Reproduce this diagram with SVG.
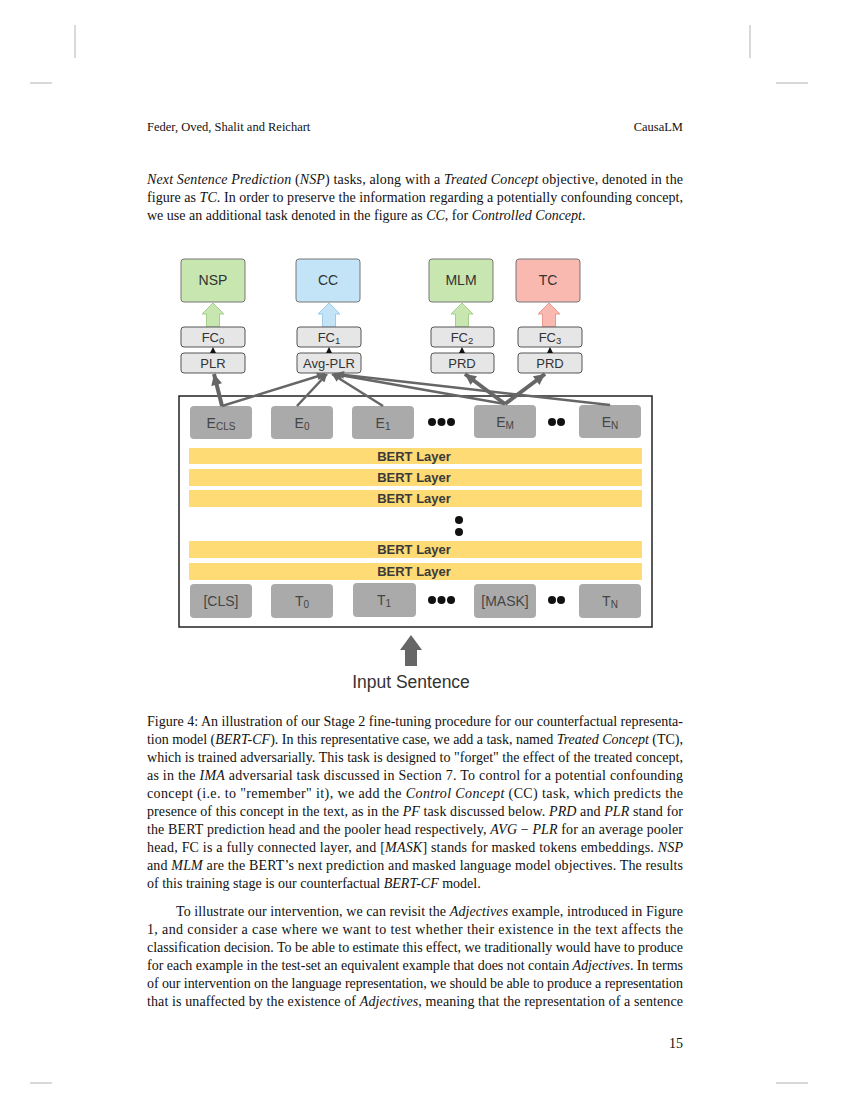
<svg xmlns="http://www.w3.org/2000/svg" width="850" height="1100" viewBox="0 0 850 1100">
<defs>
<style>
.body{font-family:"Liberation Serif","Times New Roman",serif;font-size:14px;fill:#111}
.hdr{font-family:"Liberation Serif","Times New Roman",serif;font-size:12.5px;fill:#111}
.i{font-style:italic}
.lbl{font-family:"Liberation Sans",Arial,sans-serif;fill:#333;text-anchor:middle}
.task{font-size:14px}
.head{font-size:13px}
.emb{font-size:14px;fill:#444}
.bert{font-family:"Liberation Sans",Arial,sans-serif;font-size:13px;font-weight:bold;fill:#3a3a3a;text-anchor:middle}
.hbox{fill:#e6e6e6;stroke:#555;stroke-width:1}
.tbox{stroke:#777;stroke-width:1}
.ebox{fill:#aaaaaa}
.layer{fill:#fedb74}
.crop{stroke:#cccccc;stroke-width:1.5}
.thin{stroke:#666;stroke-width:2.5;fill:none;marker-end:url(#ah)}
.thick{stroke:#666;stroke-width:4;fill:none;marker-end:url(#ahb)}
.dot{fill:#111}
</style>
<marker id="ah" viewBox="0 0 10 10" refX="10" refY="5" markerWidth="9" markerHeight="8" markerUnits="userSpaceOnUse" orient="auto"><path d="M0,0 L10,5 L0,10 z" fill="#666"/></marker>
<marker id="ahb" viewBox="0 0 10 10" refX="10" refY="5" markerWidth="12" markerHeight="11" markerUnits="userSpaceOnUse" orient="auto"><path d="M0,0 L10,5 L0,10 z" fill="#666"/></marker>
</defs>
<rect width="850" height="1100" fill="#fff"/>

<g id="cropmarks">
<line class="crop" x1="75" y1="25" x2="75" y2="58"/>
<line class="crop" x1="30" y1="83" x2="52" y2="83"/>
<line class="crop" x1="750" y1="25" x2="750" y2="58"/>
<line class="crop" x1="776" y1="83" x2="808" y2="83"/>
<line class="crop" x1="30" y1="1083" x2="52" y2="1083"/>
<line class="crop" x1="776" y1="1083" x2="808" y2="1083"/>
</g>

<g id="header">
<text class="hdr" x="147" y="131">Feder, Oved, Shalit and Reichart</text>
<text class="hdr" x="683" y="131" text-anchor="end">CausaLM</text>
</g>

<g id="para1">
<text class="body" x="147" y="184" textLength="536" lengthAdjust="spacing"><tspan class="i">Next Sentence Prediction</tspan> (<tspan class="i">NSP</tspan>) tasks, along with a <tspan class="i">Treated Concept</tspan> objective, denoted in the</text>
<text class="body" x="147" y="202" textLength="536" lengthAdjust="spacing">figure as <tspan class="i">TC</tspan>. In order to preserve the information regarding a potentially confounding concept,</text>
<text class="body" x="147" y="220">we use an additional task denoted in the figure as <tspan class="i">CC</tspan>, for <tspan class="i">Controlled Concept</tspan>.</text>
</g>

<g id="frame">
<rect x="179" y="396" width="473" height="231" fill="none" stroke="#222" stroke-width="1.5"/>
</g>

<g id="node-NSP">
<rect class="tbox" x="181" y="259" width="64" height="43" rx="3" fill="#c8e6b0"/>
<text class="lbl task" x="213" y="285">NSP</text>
</g>
<g id="node-CC">
<rect class="tbox" x="296" y="259" width="64" height="43" rx="3" fill="#c3e3f7"/>
<text class="lbl task" x="328" y="285">CC</text>
</g>
<g id="node-MLM">
<rect class="tbox" x="429" y="259" width="64" height="43" rx="3" fill="#c8e6b0"/>
<text class="lbl task" x="461" y="285">MLM</text>
</g>
<g id="node-TC">
<rect class="tbox" x="516" y="259" width="64" height="43" rx="3" fill="#f9b8b0"/>
<text class="lbl task" x="548" y="285">TC</text>
</g>

<g id="task-arrows">
<polygon points="213,303 224,314 219.5,314 219.5,327 206.5,327 206.5,314 202,314" fill="#c8e6b0" stroke="#a6cf8c" stroke-width="1"/>
<polygon points="329,303 340,314 335.5,314 335.5,327 322.5,327 322.5,314 318,314" fill="#c3e3f7" stroke="#9fcbe8" stroke-width="1"/>
<polygon points="462,303 473,314 468.5,314 468.5,327 455.5,327 455.5,314 451,314" fill="#c8e6b0" stroke="#a6cf8c" stroke-width="1"/>
<polygon points="549,303 560,314 555.5,314 555.5,327 542.5,327 542.5,314 538,314" fill="#f9b8b0" stroke="#eb9a90" stroke-width="1"/>
</g>

<g id="node-FC0">
<rect class="hbox" x="181" y="327" width="64" height="20" rx="3"/>
<text class="lbl head" x="213" y="342">FC<tspan font-size="9.5" dy="2">0</tspan></text>
</g>
<g id="node-FC1">
<rect class="hbox" x="297" y="327" width="64" height="20" rx="3"/>
<text class="lbl head" x="329" y="342">FC<tspan font-size="9.5" dy="2">1</tspan></text>
</g>
<g id="node-FC2">
<rect class="hbox" x="431" y="327" width="63" height="20" rx="3"/>
<text class="lbl head" x="462" y="342">FC<tspan font-size="9.5" dy="2">2</tspan></text>
</g>
<g id="node-FC3">
<rect class="hbox" x="518" y="327" width="64" height="20" rx="3"/>
<text class="lbl head" x="550" y="342">FC<tspan font-size="9.5" dy="2">3</tspan></text>
</g>
<g id="node-PLR">
<rect class="hbox" x="181" y="353" width="64" height="20" rx="3"/>
<text class="lbl head" x="213" y="368">PLR</text>
</g>
<g id="node-AvgPLR">
<rect class="hbox" x="297" y="353" width="64" height="20" rx="3"/>
<text class="lbl head" x="329" y="368">Avg-PLR</text>
</g>
<g id="node-PRD2">
<rect class="hbox" x="431" y="353" width="63" height="20" rx="3"/>
<text class="lbl head" x="462" y="368">PRD</text>
</g>
<g id="node-PRD3">
<rect class="hbox" x="518" y="353" width="64" height="20" rx="3"/>
<text class="lbl head" x="550" y="368">PRD</text>
</g>

<g id="node-ECLS"><rect class="ebox" x="190" y="406" width="62" height="33" rx="4"/><text class="lbl emb" x="221" y="428">E<tspan font-size="10" dy="2">CLS</tspan></text></g>
<g id="node-E0"><rect class="ebox" x="271" y="406" width="62" height="33" rx="4"/><text class="lbl emb" x="302" y="428">E<tspan font-size="10" dy="2">0</tspan></text></g>
<g id="node-E1"><rect class="ebox" x="352" y="406" width="62" height="33" rx="4"/><text class="lbl emb" x="383" y="428">E<tspan font-size="10" dy="2">1</tspan></text></g>
<g id="node-EM"><rect class="ebox" x="474" y="405" width="62" height="33" rx="4"/><text class="lbl emb" x="505" y="427">E<tspan font-size="10" dy="2">M</tspan></text></g>
<g id="node-EN"><rect class="ebox" x="579" y="405" width="62" height="33" rx="4"/><text class="lbl emb" x="610" y="427">E<tspan font-size="10" dy="2">N</tspan></text></g>
<g id="edots">
<circle class="dot" cx="432" cy="422" r="4"/><circle class="dot" cx="441.5" cy="422" r="4"/><circle class="dot" cx="451" cy="422" r="4"/>
<circle class="dot" cx="552" cy="422" r="4"/><circle class="dot" cx="561" cy="422" r="4"/>
</g>

<g id="bert-layers">
<rect class="layer" x="189" y="448" width="453" height="16"/><text class="bert" x="414" y="461">BERT Layer</text>
<rect class="layer" x="189" y="469" width="453" height="17"/><text class="bert" x="414" y="482">BERT Layer</text>
<rect class="layer" x="189" y="490" width="453" height="17"/><text class="bert" x="414" y="503">BERT Layer</text>
<circle class="dot" cx="459" cy="520" r="4"/><circle class="dot" cx="459" cy="532" r="4"/>
<rect class="layer" x="189" y="541" width="453" height="17"/><text class="bert" x="414" y="554">BERT Layer</text>
<rect class="layer" x="189" y="563" width="453" height="17"/><text class="bert" x="414" y="576">BERT Layer</text>
</g>

<g id="node-CLS"><rect class="ebox" x="190" y="584" width="62" height="34" rx="4"/><text class="lbl emb" x="221" y="606">[CLS]</text></g>
<g id="node-T0"><rect class="ebox" x="271" y="584" width="62" height="34" rx="4"/><text class="lbl emb" x="302" y="606">T<tspan font-size="10" dy="2">0</tspan></text></g>
<g id="node-T1"><rect class="ebox" x="353" y="583" width="63" height="34" rx="4"/><text class="lbl emb" x="384" y="605">T<tspan font-size="10" dy="2">1</tspan></text></g>
<g id="node-MASK"><rect class="ebox" x="474" y="584" width="62" height="34" rx="4"/><text class="lbl emb" x="505" y="606">[MASK]</text></g>
<g id="node-TN"><rect class="ebox" x="579" y="584" width="62" height="34" rx="4"/><text class="lbl emb" x="610" y="606">T<tspan font-size="10" dy="2">N</tspan></text></g>
<g id="tdots">
<circle class="dot" cx="432" cy="600" r="4"/><circle class="dot" cx="441.5" cy="600" r="4"/><circle class="dot" cx="451" cy="600" r="4"/>
<circle class="dot" cx="552" cy="600" r="4"/><circle class="dot" cx="561" cy="600" r="4"/>
</g>

<g id="connectors">
<line class="thin" x1="222" y1="406" x2="325" y2="374"/>
<line class="thin" x1="297" y1="406" x2="327" y2="374"/>
<line class="thin" x1="383" y1="406" x2="332" y2="374"/>
<line class="thin" x1="505" y1="404" x2="334" y2="374"/>
<line class="thin" x1="610" y1="405" x2="336" y2="374"/>
<line class="thick" x1="222" y1="406" x2="214" y2="374"/>
<line class="thick" x1="505" y1="404" x2="465" y2="374"/>
<line class="thick" x1="505" y1="404" x2="545" y2="374"/>
<polygon points="213,347 210,353 216,353" fill="#111"/>
<polygon points="329,347 326,353 332,353" fill="#111"/>
<polygon points="462,347 459,353 465,353" fill="#111"/>
<polygon points="550,347 547,353 553,353" fill="#111"/>
<polygon points="411,635 422,650 417,650 417,666 405,666 405,650 400,650" fill="#666"/>
</g>

<g id="input-label">
<text class="lbl" x="411" y="688" font-size="17.5" fill="#222">Input Sentence</text>
</g>

<g id="caption">
<text class="body" x="147" y="726" textLength="536" lengthAdjust="spacing">Figure 4: An illustration of our Stage 2 fine-tuning procedure for our counterfactual representa-</text>
<text class="body" x="147" y="744" textLength="536" lengthAdjust="spacing">tion model (<tspan class="i">BERT-CF</tspan>). In this representative case, we add a task, named <tspan class="i">Treated Concept</tspan> (TC),</text>
<text class="body" x="147" y="762" textLength="536" lengthAdjust="spacing">which is trained adversarially. This task is designed to "forget" the effect of the treated concept,</text>
<text class="body" x="147" y="780" textLength="536" lengthAdjust="spacing">as in the <tspan class="i">IMA</tspan> adversarial task discussed in Section 7. To control for a potential confounding</text>
<text class="body" x="147" y="798" textLength="536" lengthAdjust="spacing">concept (i.e. to "remember" it), we add the <tspan class="i">Control Concept</tspan> (CC) task, which predicts the</text>
<text class="body" x="147" y="816" textLength="536" lengthAdjust="spacing">presence of this concept in the text, as in the <tspan class="i">PF</tspan> task discussed below. <tspan class="i">PRD</tspan> and <tspan class="i">PLR</tspan> stand for</text>
<text class="body" x="147" y="834" textLength="536" lengthAdjust="spacing">the BERT prediction head and the pooler head respectively, <tspan class="i">AVG</tspan> − <tspan class="i">PLR</tspan> for an average pooler</text>
<text class="body" x="147" y="852" textLength="536" lengthAdjust="spacing">head, FC is a fully connected layer, and [<tspan class="i">MASK</tspan>] stands for masked tokens embeddings. <tspan class="i">NSP</tspan></text>
<text class="body" x="147" y="870" textLength="536" lengthAdjust="spacing">and <tspan class="i">MLM</tspan> are the BERT’s next prediction and masked language model objectives. The results</text>
<text class="body" x="147" y="888">of this training stage is our counterfactual <tspan class="i">BERT-CF</tspan> model.</text>
</g>

<g id="para2">
<text class="body" x="176" y="916" textLength="507" lengthAdjust="spacing">To illustrate our intervention, we can revisit the <tspan class="i">Adjectives</tspan> example, introduced in Figure</text>
<text class="body" x="147" y="934" textLength="536" lengthAdjust="spacing">1, and consider a case where we want to test whether their existence in the text affects the</text>
<text class="body" x="147" y="952" textLength="536" lengthAdjust="spacing">classification decision. To be able to estimate this effect, we traditionally would have to produce</text>
<text class="body" x="147" y="970" textLength="536" lengthAdjust="spacing">for each example in the test-set an equivalent example that does not contain <tspan class="i">Adjectives</tspan>. In terms</text>
<text class="body" x="147" y="988" textLength="536" lengthAdjust="spacing">of our intervention on the language representation, we should be able to produce a representation</text>
<text class="body" x="147" y="1006" textLength="536" lengthAdjust="spacing">that is unaffected by the existence of <tspan class="i">Adjectives</tspan>, meaning that the representation of a sentence</text>
</g>

<g id="page-number">
<text class="body" x="683" y="1048" text-anchor="end">15</text>
</g>
</svg>
